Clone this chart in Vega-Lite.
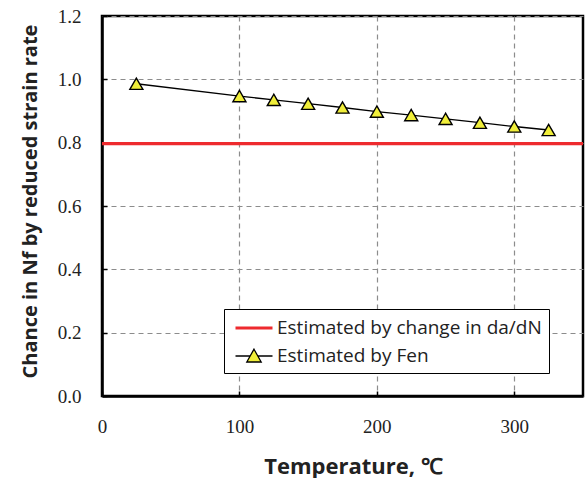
{
  "$schema": "https://vega.github.io/schema/vega-lite/v6.json",
  "autosize": "none",
  "width": 481,
  "height": 380,
  "padding": {"left": 102, "top": 16, "right": 4, "bottom": 82},
  "background": "white",
  "config": {
    "view": {"stroke": "black", "strokeWidth": 2.5},
    "axis": {
      "labelFont": "Liberation Serif",
      "labelFontSize": 19,
      "labelColor": "#222",
      "titleFont": "Open Sans",
      "titleFontWeight": "bold",
      "titleColor": "#222",
      "gridColor": "#8c8c8c",
      "gridDash": [5, 4],
      "gridWidth": 1.2,
      "domainColor": "black",
      "domainWidth": 2.5,
      "tickColor": "black",
      "tickSize": -5,
      "tickWidth": 1.5
    }
  },
  "datasets": {
    "series": [
      {"series": "Estimated by change in da/dN", "temp": 0, "value": 0.797},
      {"series": "Estimated by change in da/dN", "temp": 350, "value": 0.797},
      {"series": "Estimated by Fen", "temp": 25, "value": 0.986},
      {"series": "Estimated by Fen", "temp": 100, "value": 0.947},
      {"series": "Estimated by Fen", "temp": 125, "value": 0.935},
      {"series": "Estimated by Fen", "temp": 150, "value": 0.923},
      {"series": "Estimated by Fen", "temp": 175, "value": 0.911},
      {"series": "Estimated by Fen", "temp": 200, "value": 0.898},
      {"series": "Estimated by Fen", "temp": 225, "value": 0.887},
      {"series": "Estimated by Fen", "temp": 250, "value": 0.875},
      {"series": "Estimated by Fen", "temp": 275, "value": 0.863},
      {"series": "Estimated by Fen", "temp": 300, "value": 0.851},
      {"series": "Estimated by Fen", "temp": 325, "value": 0.840}
    ]
  },
  "data": {"name": "series"},
  "encoding": {
    "x": {
      "field": "temp",
      "type": "quantitative",
      "scale": {"domain": [0, 350], "nice": false},
      "axis": {
        "values": [0, 100, 200, 300],
        "title": "Temperature, ℃",
        "titleFontSize": 22,
        "titleX": 251,
        "labelPadding": 26,
        "titlePadding": 20,
        "labelFlush": false
      }
    },
    "y": {
      "field": "value",
      "type": "quantitative",
      "scale": {"domain": [0, 1.2], "nice": false},
      "axis": {
        "values": [0, 0.2, 0.4, 0.6, 0.8, 1.0, 1.2],
        "format": ".1f",
        "title": "Chance in Nf by reduced strain rate",
        "titleFontSize": 20,
        "titleY": 185,
        "labelPadding": 26,
        "titlePadding": 17
      }
    }
  },
  "layer": [
    {
      "mark": {"type": "line", "clip": true},
      "encoding": {
        "color": {
          "field": "series",
          "type": "nominal",
          "scale": {"domain": ["Estimated by change in da/dN", "Estimated by Fen"], "range": ["#ee2a2e", "#000000"]},
          "legend": {
            "title": null,
            "orient": "none",
            "legendX": 122,
            "legendY": 293,
            "padding": 7,
            "strokeColor": "black",
            "fillColor": "white",
            "labelFont": "Open Sans",
            "labelFontSize": 19,
            "labelColor": "#222",
            "labelLimit": 0,
            "labelOffset": 11,
            "rowPadding": 7,
            "symbolSize": 400,
            "symbolOffset": 11,
            "symbolOpacity": 1,
            "symbolStrokeWidth": 1.3,
            "encode": {
              "symbols": {
                "update": {
                  "shape": {"signal": "datum.value === 'Estimated by Fen' ? 'M-1.85,0H-0.37M0.37,0H1.85M0,-0.68L0.72,0.6L-0.72,0.6Z' : 'M-1.85,0H1.85'"},
                  "fill": {"signal": "datum.value === 'Estimated by Fen' ? '#f0ee3a' : 'transparent'"},
                  "strokeWidth": {"signal": "datum.value === 'Estimated by Fen' ? 1.3 : 3"}
                }
              }
            }
          }
        },
        "strokeWidth": {
          "field": "series",
          "type": "nominal",
          "scale": {"domain": ["Estimated by change in da/dN", "Estimated by Fen"], "range": [3.2, 1.3]},
          "legend": null
        }
      }
    },
    {
      "transform": [{"filter": "datum.series === 'Estimated by Fen'"}],
      "mark": {"type": "point", "shape": "triangle-up", "filled": true, "size": 170, "fill": "#f0ee3a", "stroke": "black", "strokeWidth": 1.4, "opacity": 1}
    }
  ]
}
